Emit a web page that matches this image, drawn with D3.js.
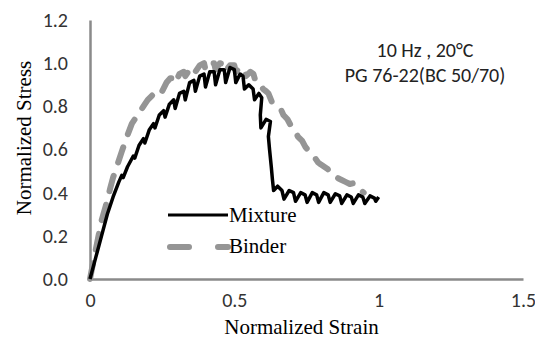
<!DOCTYPE html>
<html>
<head>
<meta charset="utf-8">
<script src="https://cdn.jsdelivr.net/npm/d3@7"></script>
<style>
  body { margin: 0; background: #fff; }
  svg { display: block; }
</style>
</head>
<body>
<div id="chart"></div>
<script>
// Mixture curve: normalized strain / normalized stress
const mixStrain = [0, 0.02, 0.04, 0.06, 0.08, 0.10, 0.11, 0.115, 0.13, 0.15, 0.155, 0.17, 0.185, 0.19,
  0.205, 0.22, 0.225, 0.24, 0.255, 0.26, 0.275, 0.29, 0.295, 0.31, 0.325, 0.33, 0.345, 0.36, 0.365,
  0.38, 0.395, 0.40, 0.415, 0.43, 0.435, 0.45, 0.465, 0.47, 0.485, 0.50, 0.505, 0.52, 0.53, 0.535,
  0.55, 0.565, 0.57, 0.585, 0.595, 0.59, 0.592, 0.61, 0.625, 0.618, 0.622, 0.628, 0.632, 0.636,
  0.65, 0.665, 0.672, 0.69, 0.705, 0.712, 0.73, 0.745, 0.752, 0.77, 0.785, 0.792, 0.81, 0.825, 0.832,
  0.85, 0.865, 0.872, 0.89, 0.905, 0.912, 0.93, 0.945, 0.952, 0.97, 0.985, 0.99, 1.0];
const mixStress = [0, 0.10, 0.20, 0.30, 0.38, 0.45, 0.48, 0.47, 0.52, 0.57, 0.56, 0.62, 0.65, 0.63,
  0.69, 0.72, 0.70, 0.76, 0.78, 0.75, 0.81, 0.83, 0.79, 0.86, 0.87, 0.83, 0.91, 0.92, 0.87,
  0.94, 0.95, 0.89, 0.96, 0.96, 0.90, 0.97, 0.97, 0.91, 0.98, 0.97, 0.91, 0.95, 0.94, 0.88,
  0.90, 0.88, 0.83, 0.86, 0.84, 0.76, 0.70, 0.74, 0.73, 0.66, 0.60, 0.52, 0.46, 0.41,
  0.43, 0.41, 0.37, 0.41, 0.40, 0.36, 0.40, 0.39, 0.355, 0.40, 0.39, 0.355, 0.40, 0.39, 0.355,
  0.395, 0.385, 0.35, 0.39, 0.38, 0.35, 0.39, 0.38, 0.35, 0.385, 0.375, 0.36, 0.38];

// Binder curve
const binStrain = [0, 0.01, 0.025, 0.04, 0.055, 0.07, 0.08, 0.095, 0.11, 0.128, 0.145, 0.16, 0.167,
  0.18, 0.19, 0.20, 0.215, 0.23, 0.245, 0.25, 0.265, 0.278, 0.29, 0.295, 0.31, 0.325, 0.33, 0.345,
  0.36, 0.365, 0.38, 0.395, 0.40, 0.415, 0.43, 0.435, 0.45, 0.465, 0.47, 0.485, 0.50, 0.505, 0.52,
  0.535, 0.54, 0.556, 0.566, 0.575, 0.59, 0.60, 0.61, 0.618, 0.63, 0.64, 0.65, 0.66, 0.67, 0.684,
  0.70, 0.71, 0.72, 0.735, 0.747, 0.76, 0.77, 0.78, 0.79, 0.80, 0.823, 0.84, 0.855, 0.87, 0.885,
  0.90, 0.915, 0.927, 0.94, 0.948];
const binStress = [0, 0.07, 0.17, 0.27, 0.34, 0.42, 0.47, 0.53, 0.59, 0.66, 0.72, 0.75, 0.77,
  0.79, 0.81, 0.83, 0.85, 0.87, 0.88, 0.87, 0.91, 0.93, 0.93, 0.91, 0.95, 0.96, 0.94, 0.97,
  0.98, 0.96, 0.99, 1.0, 0.97, 1.0, 1.0, 0.97, 1.0, 0.995, 0.965, 0.99, 0.99, 0.96, 0.98,
  0.97, 0.94, 0.96, 0.95, 0.91, 0.90, 0.88, 0.87, 0.86, 0.82, 0.81, 0.80, 0.79, 0.76, 0.74,
  0.70, 0.69, 0.66, 0.64, 0.61, 0.59, 0.57, 0.56, 0.54, 0.53, 0.51, 0.48, 0.47, 0.46, 0.45,
  0.44, 0.445, 0.43, 0.41, 0.40];

const xTicks = [0, 0.5, 1, 1.5];
const xTickLabels = ["0", "0.5", "1", "1.5"];
const yTicks = [0, 0.2, 0.4, 0.6, 0.8, 1.0, 1.2];
const seriesNames = ["Mixture", "Binder"];
const noteLines = ["10 Hz , 20°C", "PG 76-22(BC 50/70)"];

const W = 535, H = 340;
const margin = {top: 20, right: 12, bottom: 61, left: 90};

const svg = d3.select("#chart").append("svg")
  .attr("width", W)
  .attr("height", H);

const x = d3.scaleLinear().domain([0, 1.5]).range([margin.left, W - margin.right]);
const y = d3.scaleLinear().domain([0, 1.2]).range([H - margin.bottom, margin.top]);

const tickFont = "Carlito, Calibri, Lato, sans-serif";
const serif = "'Liberation Serif', 'Times New Roman', serif";
const axisColor = "#8a8a8a";

// axes
const xAxis = svg.append("g")
  .attr("transform", `translate(0,${y(0)})`)
  .call(d3.axisBottom(x).tickValues(xTicks).tickSize(0).tickPadding(14)
    .tickFormat((d, i) => xTickLabels[i]));
const yAxis = svg.append("g")
  .attr("transform", `translate(${x(0)},0)`)
  .call(d3.axisLeft(y).tickValues(yTicks).tickSize(0).tickPadding(22)
    .tickFormat(d3.format(".1f")));

[xAxis, yAxis].forEach(g => {
  g.select(".domain").attr("stroke", axisColor).attr("stroke-width", 2.5);
  g.selectAll("text").attr("font-family", tickFont).attr("font-size", 20).attr("fill", "#333");
});

// axis titles
svg.append("text")
  .attr("x", (x(0) + x(1.5)) / 2 - 5)
  .attr("y", 334)
  .attr("text-anchor", "middle")
  .attr("font-family", serif)
  .attr("font-size", 21)
  .text("Normalized Strain");

svg.append("text")
  .attr("transform", "translate(31,138) rotate(-90)")
  .attr("text-anchor", "middle")
  .attr("font-family", serif)
  .attr("font-size", 21)
  .text("Normalized Stress");

// lines
const line = d3.line().x(d => x(d[0])).y(d => y(d[1]));
const binder = d3.zip(binStrain, binStress);
const mixture = d3.zip(mixStrain, mixStress);

svg.append("path")
  .attr("d", line(binder))
  .attr("fill", "none")
  .attr("stroke", "#959595")
  .attr("stroke-width", 6)
  .attr("stroke-linecap", "round")
  .attr("stroke-linejoin", "round")
  .attr("stroke-dasharray", "16,14");

svg.append("path")
  .attr("d", line(mixture))
  .attr("fill", "none")
  .attr("stroke", "#000")
  .attr("stroke-width", 3.5)
  .attr("stroke-linejoin", "round");

// legend
const legend = svg.append("g");
legend.append("line")
  .attr("x1", 168).attr("x2", 228).attr("y1", 215).attr("y2", 215)
  .attr("stroke", "#000").attr("stroke-width", 3.2);
legend.append("line")
  .attr("x1", 170).attr("x2", 228).attr("y1", 247).attr("y2", 247)
  .attr("stroke", "#959595").attr("stroke-width", 6)
  .attr("stroke-linecap", "round")
  .attr("stroke-dasharray", "19,29");
legend.selectAll("text.lg")
  .data(seriesNames)
  .join("text")
  .attr("class", "lg")
  .attr("x", 229)
  .attr("y", (d, i) => 222 + i * 31)
  .attr("font-family", serif)
  .attr("font-size", 21)
  .text(d => d);

// annotation
svg.selectAll("text.note")
  .data(noteLines)
  .join("text")
  .attr("class", "note")
  .attr("x", 425)
  .attr("y", (d, i) => 57 + i * 25)
  .attr("text-anchor", "middle")
  .attr("font-family", tickFont)
  .attr("font-size", 20)
  .attr("fill", "#222")
  .text(d => d);
</script>
</body>
</html>
